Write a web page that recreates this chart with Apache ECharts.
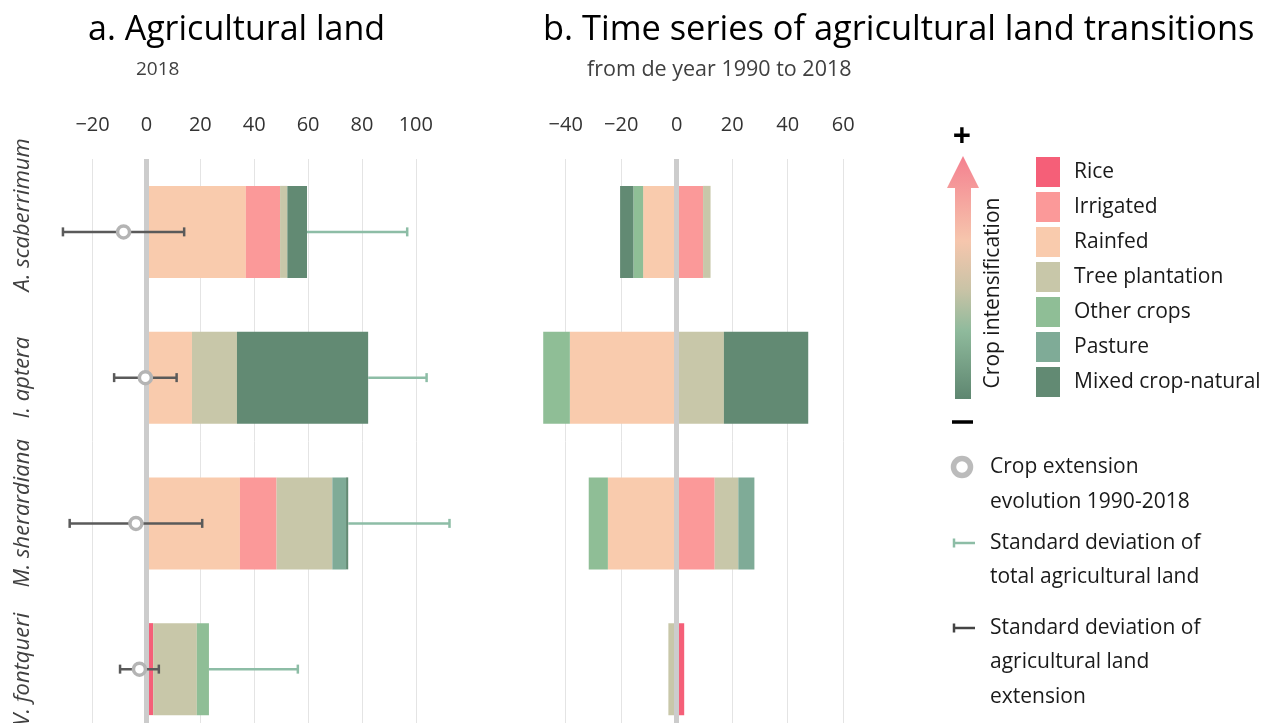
<!DOCTYPE html>
<html><head><meta charset="utf-8">
<script src="https://cdn.jsdelivr.net/npm/echarts@6/dist/echarts.min.js"></script>
<style>html,body{margin:0;padding:0;background:#fff}#c{width:1272px;height:723px}</style>
</head><body><div id="c"></div>
<script>
// ---------- DATA ----------
const categories = ['A. scaberrimum', 'I. aptera', 'M. sherardiana', 'V. fontqueri'];
const landTypes = ['Rice', 'Irrigated', 'Rainfed', 'Tree plantation', 'Other crops', 'Pasture', 'Mixed crop-natural'];
// stacking order (from zero outward)
const stackOrder = ['Rice', 'Rainfed', 'Irrigated', 'Tree plantation', 'Other crops', 'Pasture', 'Mixed crop-natural'];

// Panel a: agricultural land 2018
const a_rice      = [0, 0, 0, 2.5];
const a_irrigated = [12.7, 0, 13.6, 0];
const a_rainfed   = [36.9, 16.9, 34.7, 0];
const a_tree      = [2.7, 16.7, 20.7, 16.2];
const a_other     = [0, 0, 0, 4.5];
const a_pasture   = [0, 0, 5.1, 0];
const a_mixed     = [7.3, 48.7, 0.8, 0];

// Panel b: transitions 1990-2018
const b_rice      = [0, 0, 0, 2.7];
const b_irrigated = [9.5, 0, 13.7, 0];
const b_rainfed   = [-12.1, -38.5, -24.8, 0];
const b_tree      = [2.7, 17.0, 8.5, -3.0];
const b_other     = [-3.5, -9.6, -6.9, 0];
const b_pasture   = [0, 0, 5.8, 0];
const b_mixed     = [-4.8, 30.4, 0, 0];

// Crop extension evolution (mean) and standard deviations
const extensionMean = [-8.5, -0.4, -3.9, -2.6];
const extensionSD   = [22.5, 11.6, 24.6, 7.2];
const totalSD       = [37.2, 21.7, 37.6, 33.0];

// Tick labels
const ticksA = [-20, 0, 20, 40, 60, 80, 100];
const ticksB = [-40, -20, 0, 20, 40, 60];

// ---------- STYLE ----------
const FONT = '"Open Sans", "Noto Sans", sans-serif';
const colors = {
  'Rice': '#f55f78', 'Irrigated': '#fb9999', 'Rainfed': '#f9cbad',
  'Tree plantation': '#c8c7a9', 'Other crops': '#8fbe96', 'Pasture': '#7fab97',
  'Mixed crop-natural': '#628a73'
};
const labelShift = [34, 0, 20, 0]; // label padding (style only)
const aData = {'Rice': a_rice, 'Irrigated': a_irrigated, 'Rainfed': a_rainfed, 'Tree plantation': a_tree,
  'Other crops': a_other, 'Pasture': a_pasture, 'Mixed crop-natural': a_mixed};
const bData = {'Rice': b_rice, 'Irrigated': b_irrigated, 'Rainfed': b_rainfed, 'Tree plantation': b_tree,
  'Other crops': b_other, 'Pasture': b_pasture, 'Mixed crop-natural': b_mixed};

const fmtTick = (ticks) => (v) => ticks.includes(v) ? String(v).replace('-', '\u2212') : '';

const totals = categories.map((c, i) => stackOrder.reduce((s, n) => s + aData[n][i], 0));

function makeErr(color, bothCaps) {
  return function (params, api) {
    const c = api.value(0);
    const p1 = api.coord([api.value(1), c]);
    const p2 = api.coord([api.value(2), c]);
    const h = 4.5;
    const st = {stroke: color, lineWidth: 2.5};
    const ch = [{type: 'line', shape: {x1: p1[0], y1: p1[1], x2: p2[0], y2: p2[1]}, style: st}];
    if (bothCaps) ch.push({type: 'line', shape: {x1: p1[0], y1: p1[1] - h, x2: p1[0], y2: p1[1] + h}, style: st});
    ch.push({type: 'line', shape: {x1: p2[0], y1: p2[1] - h, x2: p2[0], y2: p2[1] + h}, style: st});
    return {type: 'group', children: ch};
  };
}

const series = [];
// zero lines
[0, 1].forEach(k => series.push({
  type: 'line', name: 'zero' + k, xAxisIndex: k, yAxisIndex: k, data: [], z: 1, silent: true,
  markLine: {silent: true, symbol: 'none', label: {show: false}, animation: false,
    lineStyle: {color: '#cccccc', width: 5, type: 'solid'}, data: [{xAxis: 0}]}
}));
stackOrder.forEach(name => {
  series.push({type: 'bar', name, stack: 'a', xAxisIndex: 0, yAxisIndex: 0, barWidth: 92,
    data: aData[name], itemStyle: {color: colors[name]}, z: 2});
  series.push({type: 'bar', name, stack: 'b', xAxisIndex: 1, yAxisIndex: 1, barWidth: 92,
    data: bData[name], itemStyle: {color: colors[name]}, z: 2});
});
series.push({type: 'custom', name: 'sdTotal', xAxisIndex: 0, yAxisIndex: 0, z: 5,
  encode: {x: [1, 2], y: 0},
  data: categories.map((c, i) => [i, totals[i], totals[i] + totalSD[i]]),
  renderItem: makeErr('#8dbda6', false)});
series.push({type: 'custom', name: 'sdExt', xAxisIndex: 0, yAxisIndex: 0, z: 5,
  encode: {x: [1, 2], y: 0},
  data: categories.map((c, i) => [i, extensionMean[i] - extensionSD[i], extensionMean[i] + extensionSD[i]]),
  renderItem: makeErr('#5a5a5a', true)});
series.push({type: 'scatter', name: 'mean', xAxisIndex: 0, yAxisIndex: 0, z: 6,
  symbol: 'circle', symbolSize: 12,
  itemStyle: {color: '#ffffff', borderColor: '#b4b4b4', borderWidth: 3.5, opacity: 1},
  data: extensionMean.map((m, i) => [m, i])});

function xAxisCfg(idx, min, max, ticks, showMax) {
  return {
    type: 'value', gridIndex: idx, position: 'top', min, max, interval: 20,
    axisLine: {show: false}, axisTick: {show: false},
    axisLabel: {fontSize: 20, color: '#333', fontFamily: FONT, margin: 24, formatter: fmtTick(ticks)},
    splitLine: {show: true, showMinLine: false, showMaxLine: showMax, lineStyle: {color: '#e4e4e4', width: 1}}
  };
}

const gradArrow = new echarts.graphic.LinearGradient(0, 0, 0, 1, [
  {offset: 0, color: '#f4808f'}, {offset: 0.35, color: '#f6c6ad'}, {offset: 0.55, color: '#c9c3a6'},
  {offset: 0.72, color: '#8fba9c'}, {offset: 1, color: '#5e8670'}]);

const txt = (x, y, t, size, extra) => Object.assign({type: 'text', x, y,
  style: Object.assign({text: t, font: size + 'px ' + FONT, fill: '#1a1a1a', textAlign: 'left', textVerticalAlign: 'middle'}, extra || {})});

const graphic = [
  txt(962, 138, '+', 32, {textAlign: 'center', fill: '#000', font: 'bold 32px ' + FONT}),
  {type: 'polygon', shape: {points: [[955, 399], [955, 188], [947, 188], [963, 156], [979, 188], [971, 188], [971, 399]]},
    style: {fill: gradArrow}},
  {type: 'line', shape: {x1: 952, y1: 422, x2: 973, y2: 422}, style: {stroke: '#000', lineWidth: 3.5}},
  {type: 'text', x: 993, y: 293, rotation: Math.PI / 2,
    style: {text: 'Crop intensification', font: '21px ' + FONT, fill: '#1a1a1a', textAlign: 'center', textVerticalAlign: 'middle'}},
  {type: 'circle', shape: {cx: 962, cy: 467, r: 8.5}, style: {fill: '#fff', stroke: '#bbbbbb', lineWidth: 5.5}},
  txt(990, 467, 'Crop extension', 21),
  txt(990, 502, 'evolution 1990-2018', 21),
  {type: 'line', shape: {x1: 954, y1: 543, x2: 975, y2: 543}, style: {stroke: '#8dbda6', lineWidth: 2.5}},
  {type: 'line', shape: {x1: 954, y1: 538.5, x2: 954, y2: 547.5}, style: {stroke: '#8dbda6', lineWidth: 2.5}},
  txt(990, 543, 'Standard deviation of', 21),
  txt(990, 577, 'total agricultural land', 21),
  {type: 'line', shape: {x1: 954, y1: 628, x2: 975, y2: 628}, style: {stroke: '#444', lineWidth: 2.5}},
  {type: 'line', shape: {x1: 954, y1: 623.5, x2: 954, y2: 632.5}, style: {stroke: '#444', lineWidth: 2.5}},
  txt(990, 628, 'Standard deviation of', 21),
  txt(990, 662, 'agricultural land', 21),
  txt(990, 697, 'extension', 21)
];

const option = {
  animation: false,
  backgroundColor: '#ffffff',
  textStyle: {fontFamily: FONT},
  title: [
    {text: 'a. Agricultural land', left: 88, top: 13, padding: 0, textStyle: {fontSize: 34, fontWeight: 'normal', color: '#000', fontFamily: FONT}},
    {text: '2018', left: 136, top: 60, padding: 0, textStyle: {fontSize: 19, fontWeight: 'normal', color: '#404040', fontFamily: FONT}},
    {text: 'b. Time series of agricultural land transitions', left: 543, top: 13, padding: 0, textStyle: {fontSize: 34.4, fontWeight: 'normal', color: '#000', fontFamily: FONT}},
    {text: 'from de year 1990 to 2018', left: 587, top: 59, padding: 0, textStyle: {fontSize: 21.5, fontWeight: 'normal', color: '#404040', fontFamily: FONT}}
  ],
  legend: {
    data: landTypes, orient: 'vertical', left: 1036, top: 157, padding: 0,
    icon: 'rect', itemWidth: 24, itemHeight: 30, itemGap: 5, selectedMode: false,
    textStyle: {fontSize: 21, color: '#1a1a1a', fontFamily: FONT, padding: [0, 0, 0, 9]}
  },
  grid: [
    {left: 38.7, top: 159, width: 431, height: 583, outerBoundsMode: 'none', containLabel: false},
    {left: 510.2, top: 159, width: 333, height: 583, outerBoundsMode: 'none', containLabel: false}
  ],
  xAxis: [xAxisCfg(0, -40, 120, ticksA, false), xAxisCfg(1, -60, 60, ticksB, true)],
  yAxis: [
    {type: 'category', gridIndex: 0, inverse: true,
      data: categories.map((c, i) => ({value: c, textStyle: {padding: [0, 0, 0, labelShift[i]]}})),
      axisLine: {show: false}, axisTick: {show: false}, splitLine: {show: false},
      axisLabel: {interval: 0, rotate: 90, fontStyle: 'italic', fontSize: 22, color: '#404040', fontFamily: FONT, margin: 5, hideOverlap: false}},
    {type: 'category', gridIndex: 1, data: categories, inverse: true,
      axisLine: {show: false}, axisTick: {show: false}, splitLine: {show: false}, axisLabel: {show: false}}
  ],
  graphic,
  series
};
const chart = echarts.init(document.getElementById('c'), null, {renderer: 'canvas'});
chart.setOption(option);
</script></body></html>
